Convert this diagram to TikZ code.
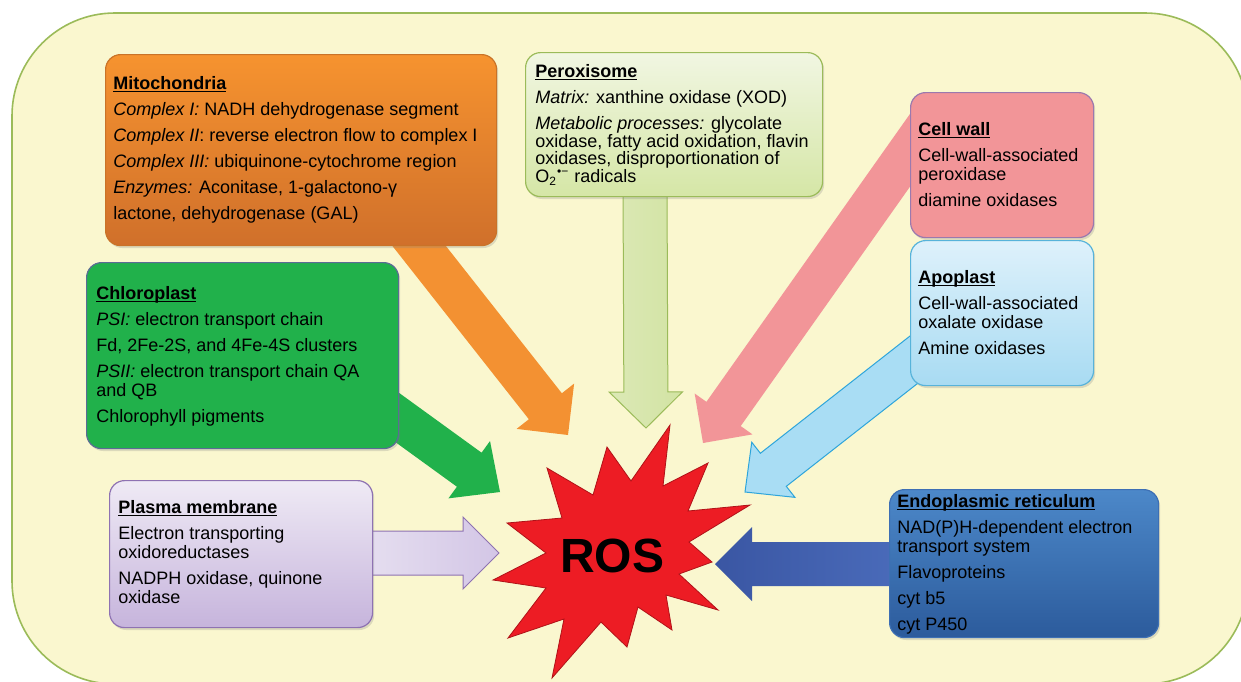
\documentclass[tikz,border=0pt]{standalone}
\usepackage{fontspec}
\setmainfont{Liberation Sans}
\usetikzlibrary{calc,shadows}
\pgfdeclarelayer{back}
\pgfdeclarelayer{mid}
\pgfsetlayers{back,mid,main}
\definecolor{bgfill}{HTML}{FAF7CF}
\definecolor{bgline}{HTML}{9BBB59}
\definecolor{mitoTop}{HTML}{F6932F}
\definecolor{mitoBot}{HTML}{D0702B}
\definecolor{mitoArr}{HTML}{F39132}
\definecolor{peroxTop}{HTML}{F1F6E2}
\definecolor{peroxBot}{HTML}{D5E6A6}
\definecolor{peroxLine}{HTML}{9BBB59}
\definecolor{peroxArrL}{HTML}{DCE9B6}
\definecolor{peroxArrR}{HTML}{D2E3A3}
\definecolor{cwFill}{HTML}{F29598}
\definecolor{cwLine}{HTML}{9B79AE}
\definecolor{apTop}{HTML}{DEF1FB}
\definecolor{apBot}{HTML}{A8DBF2}
\definecolor{apLine}{HTML}{57B3DA}
\definecolor{apArr}{HTML}{A9DDF4}
\definecolor{apArrLine}{HTML}{2EA5DB}
\definecolor{chloro}{HTML}{21B14B}
\definecolor{chloroLine}{HTML}{5B6C95}
\definecolor{plTop}{HTML}{EFEAF5}
\definecolor{plBot}{HTML}{C6B4DC}
\definecolor{plLine}{HTML}{8E72B2}
\definecolor{plArrL}{HTML}{E6DFF0}
\definecolor{plArrR}{HTML}{D3C6E6}
\definecolor{erTop}{HTML}{4C88C9}
\definecolor{erBot}{HTML}{2C5B9C}
\definecolor{erLine}{HTML}{3D6FB4}
\definecolor{erArrL}{HTML}{3A56A3}
\definecolor{erArrR}{HTML}{4A6BBA}
\definecolor{starFill}{HTML}{ED1C24}
\definecolor{starLine}{HTML}{B01218}
\newcommand\hdr[1]{\setbox0\hbox{\bfseries #1}\rlap{\rule[-1.4pt]{\wd0}{0.7pt}}\box0}
\newcommand\blkarrow[6]{%
  \coordinate (ba-h) at ($(#3)!#6!(#2)$);
  \path[#1] ($(#2)!#4!90:(#3)$) -- ($(ba-h)!#4!90:(#3)$) -- ($(ba-h)!#5!90:(#3)$)
    -- (#3) -- ($(ba-h)!#5!-90:(#3)$) -- ($(ba-h)!#4!-90:(#3)$)
    -- ($(#2)!#4!-90:(#3)$) -- cycle;}
\begin{document}
\begin{tikzpicture}[x=0.5pt,y=-0.5pt,
  box/.style={draw, rounded corners=7.5pt, inner sep=0pt, anchor=north west,
    line width=0.6pt, drop shadow={opacity=0.25, shadow xshift=0.8pt, shadow yshift=-1.2pt}},
  txt/.style={anchor=north west, inner sep=0pt, align=left,
    font=\fontsize{9}{9.4}\selectfont},
  arr/.style={line width=0.5pt, line join=miter}]
\path[use as bounding box] (0,0) rectangle (1241,681);
\begin{pgfonlayer}{back}
  \begin{scope}
    \clip (0,0) rectangle (1241,681);
    \draw[fill=bgfill, draw=bgline, line width=0.8pt, rounded corners=51.5pt]
      (12,13) rectangle (1248,684);
  \end{scope}
\end{pgfonlayer}

% boxes
\node[box, draw=mitoTop!80!black!60!mitoBot, top color=mitoTop, bottom color=mitoBot,
  minimum width=195.5pt, minimum height=95.5pt] (mito) at (105,54) {};
\node[box, draw=peroxLine, top color=peroxTop, bottom color=peroxBot,
  minimum width=148.5pt, minimum height=72pt] (perox) at (525,52) {};
\node[box, draw=cwLine, fill=cwFill,
  minimum width=91.5pt, minimum height=72.5pt] (cw) at (910,92) {};
\node[box, draw=apLine, top color=apTop, bottom color=apBot,
  minimum width=91.5pt, minimum height=72.5pt] (apo) at (910,240) {};
\node[box, draw=chloroLine, fill=chloro,
  minimum width=156pt, minimum height=93pt] (chl) at (86,262) {};
\node[box, draw=plLine, top color=plTop, bottom color=plBot,
  minimum width=131.5pt, minimum height=73.5pt] (pm) at (109,480) {};
\node[box, draw=erLine, top color=erTop, bottom color=erBot,
  minimum width=134.5pt, minimum height=74pt] (er) at (889,489) {};

% texts
\node[txt] (mitot) at ($(mito.north west)+(8,22)$) {\hdr{Mitochondria}\\[3.6pt]
\textit{Complex I:} NADH dehydrogenase segment\\[3.6pt]
\textit{Complex II}: reverse electron flow to complex I\\[3.6pt]
\textit{Complex III:} ubiquinone-cytochrome region\\[3.6pt]
\textit{Enzymes:} Aconitase, 1-galactono-γ\\[3.6pt]
lactone, dehydrogenase (GAL)};
\node[txt] (peroxt) at ($(perox.north west)+(10,12)$) {\hdr{Peroxisome}\\[3.6pt]
\textit{Matrix:} xanthine oxidase (XOD)\\[3.6pt]
\textit{Metabolic processes:} glycolate\\[-0.6pt]
oxidase, fatty acid oxidation, flavin\\[-0.6pt]
oxidases, disproportionation of\\[-0.3pt]
O\textsubscript{2}\textsuperscript{•−} radicals};
\node[txt] (cwt) at ($(cw.north west)+(8,30)$) {\hdr{Cell wall}\\[3.6pt]
Cell-wall-associated\\
peroxidase\\[3.6pt]
diamine oxidases};
\node[txt] (apot) at ($(apo.north west)+(8,30)$) {\hdr{Apoplast}\\[3.6pt]
Cell-wall-associated\\
oxalate oxidase\\[3.6pt]
Amine oxidases};
\node[txt] (chlt) at ($(chl.north west)+(10,24)$) {\hdr{Chloroplast}\\[3.6pt]
\textit{PSI:} electron transport chain\\[3.6pt]
Fd, 2Fe-2S, and 4Fe-4S clusters\\[3.6pt]
\textit{PSII:} electron transport chain QA\\
and QB\\[3.6pt]
Chlorophyll pigments};
\node[txt] (pmt) at ($(pm.north west)+(9,20)$) {\hdr{Plasma membrane}\\[3.6pt]
Electron transporting\\
oxidoreductases\\[3.6pt]
NADPH oxidase, quinone\\
oxidase};
\node[txt] (ert) at ($(er.north west)+(8,5)$) {\hdr{Endoplasmic reticulum}\\[3.6pt]
NAD(P)H-dependent electron\\
transport system\\[3.6pt]
Flavoproteins\\[3.6pt]
cyt b5\\[3.6pt]
cyt P450};

% ROS star
\node[font=\fontsize{24}{24}\selectfont\bfseries, inner sep=0pt] (ros) at (612,556) {ROS};
\begin{pgfonlayer}{mid}
  \draw[fill=starFill, draw=starLine, line width=0.4pt, line join=miter]
    (670,425) -- (663,486) -- (708,463) -- (688,511) -- (750,505) -- (689,542)
    -- (712,562) -- (679,574) -- (718,610) -- (666,595) -- (672,630) -- (638,607)
    -- (627,647) -- (601,622) -- (552,678) -- (564,619) -- (508,638) -- (546,588)
    -- (493,580) -- (546,553) -- (507,523) -- (562,518) -- (547,468) -- (593,495)
    -- (607,447) -- (631,481) -- cycle;
  % arrow end points
  \coordinate (mitoS) at (405,228);   \coordinate (mitoE) at (568,435);
  \coordinate (peroxS) at (645,185);  \coordinate (peroxE) at (646,428);
  \coordinate (cwS) at (930,122);     \coordinate (cwE) at (703,443);
  \coordinate (apoS) at (930,347);    \coordinate (apoE) at (745,492);
  \coordinate (chlS) at (380,405);    \coordinate (chlE) at (500,492);
  \coordinate (pmS) at (360,553);     \coordinate (pmE) at (499,553);
  \coordinate (erS) at (900,564);     \coordinate (erE) at (715,564);
  \blkarrow{arr, fill=mitoArr}{mitoS}{mitoE}{10.5pt}{18.3pt}{18.3pt}
  \blkarrow{arr, left color=peroxArrL, right color=peroxArrR, draw=peroxLine}{peroxS}{peroxE}{11pt}{18.3pt}{18pt}
  \blkarrow{arr, fill=cwFill}{cwS}{cwE}{10.5pt}{17.7pt}{17.8pt}
  \blkarrow{arr, fill=apArr, draw=apArrLine}{apoS}{apoE}{10.5pt}{17.5pt}{18pt}
  \blkarrow{arr, fill=chloro}{chlS}{chlE}{10.5pt}{17.7pt}{19pt}
  \blkarrow{arr, left color=plArrL, right color=plArrR, draw=plLine}{pmS}{pmE}{11pt}{18pt}{18pt}
  \blkarrow{arr, left color=erArrL, right color=erArrR}{erS}{erE}{11pt}{18.5pt}{18.5pt}
\end{pgfonlayer}
\end{tikzpicture}
\end{document}
